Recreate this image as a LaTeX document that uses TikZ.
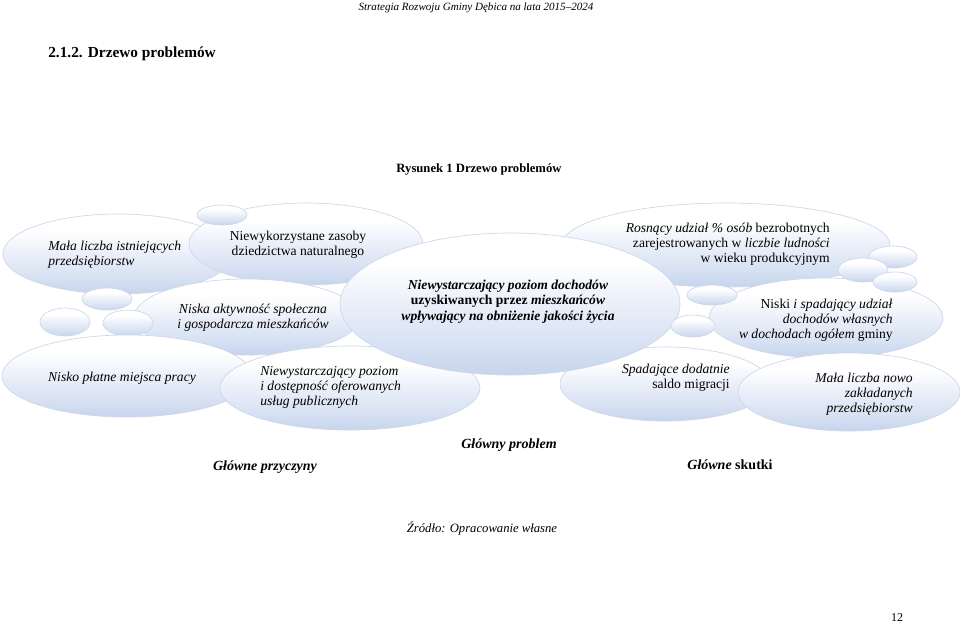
\documentclass[tikz,border=0pt]{standalone}
\usepackage{fontspec}
\setmainfont{Liberation Serif}
\usetikzlibrary{shapes.geometric}
\definecolor{bubA}{RGB}{198,212,237}
\definecolor{bubB}{RGB}{216,226,243}
\definecolor{bubC}{RGB}{234,239,249}
\definecolor{bubEdge}{RGB}{204,215,234}
\pgfdeclareverticalshading{bubshade}{100bp}{color(0bp)=(bubA); color(25bp)=(bubA); color(36bp)=(bubB); color(50bp)=(bubC); color(64bp)=(white); color(100bp)=(white)}
\tikzset{
  bubnode/.style={ellipse, inner sep=0pt, shade, shading=bubshade, draw=bubEdge, line width=0.5pt},
  txt/.style={font=\fontsize{10.2}{11.25}\selectfont, inner sep=0pt},
  lbl/.style={font=\fontsize{10.5}{12}\selectfont\bfseries\itshape, inner sep=0pt, anchor=base}
}
\newcommand\bub[5]{\node[bubnode, minimum width=#4*1.5pt, minimum height=#5*1.5pt] (#1) at (#2,#3) {};}
\begin{document}
\begin{tikzpicture}[x=0.75pt,y=-0.75pt]
\fill[white] (0,0) rectangle (960,625);
\useasboundingbox (0,0) rectangle (960,625);

% header texts
\node[inner sep=0pt, anchor=base, font=\fontsize{8.3}{10}\selectfont\itshape] (hdr) at (476,10) {Strategia Rozwoju Gminy Dębica na lata 2015–2024};
\node[inner sep=0pt, anchor=base west, font=\fontsize{11.5}{13}\selectfont\bfseries] (ttl) at (48,57) {2.1.2. Drzewo problemów};
\node[inner sep=0pt, anchor=base, font=\fontsize{9.5}{11}\selectfont\bfseries] (cap) at (479,172) {Rysunek 1 Drzewo problemów};

% bubbles (back to front)
\bub{A}{118}{254}{115}{40}
\bub{B}{306}{244}{117}{41}
\bub{b1}{222}{215}{25}{10}
\bub{C}{247}{317}{113}{38}
\bub{l1}{107}{299}{25}{11}
\bub{l2}{65}{322}{25}{14}
\bub{l3}{128}{323}{25}{13}
\bub{D}{127}{376}{125}{41}
\bub{E}{350}{388}{130}{42}
\bub{F}{726}{245}{164}{42}
\bub{G}{826}{318}{117}{40}
\bub{r1}{893}{257}{24}{11}
\bub{r2}{863}{270}{25}{12}
\bub{r3}{895}{282}{22}{10}
\bub{H}{665}{384}{105}{37}
\bub{I}{849}{392}{111}{39}
\bub{M}{510}{304}{170}{71}
\bub{m1}{712}{295}{25}{10}
\bub{m2}{693}{326}{22}{11}

% texts in bubbles (anchor = baseline of the last line)
\node[txt, align=left, anchor=base west] (tA) at (48,265) {\textit{Mała liczba istniejących}\\\textit{przedsiębiorstw}};
\node[txt, align=center, anchor=base] (tB) at (298,255) {Niewykorzystane zasoby\\dziedzictwa naturalnego};
\node[txt, align=center, anchor=base] (tC) at (253,328) {\textit{Niska aktywność społeczna}\\\textit{i gospodarcza mieszkańców}};
\node[txt, align=center, anchor=base] (tD) at (122,381) {\textit{Nisko płatne miejsca pracy}};
\node[txt, align=left, anchor=base west] (tE) at (260,405) {\textit{Niewystarczający poziom}\\\textit{i dostępność oferowanych}\\\textit{usług publicznych}};
\node[txt, font=\fontsize{10.2}{11.6}\selectfont\bfseries, align=center, anchor=base] (tM) at (508,320) {\textit{Niewystarczający poziom dochodów}\\uzyskiwanych przez \textit{mieszkańców}\\\textit{wpływający na obniżenie jakości życia}};
\node[txt, align=right, anchor=base east] (tF) at (830,262) {\textit{Rosnący udział \% osób} bezrobotnych\\zarejestrowanych w \textit{liczbie ludności}\\w wieku produkcyjnym};
\node[txt, align=right, anchor=base east] (tG) at (893,338) {Niski \textit{i spadający udział}\\\textit{dochodów własnych}\\\textit{w dochodach ogółem} gminy};
\node[txt, align=right, anchor=base east] (tH) at (730,388) {\textit{Spadające dodatnie}\\saldo migracji};
\node[txt, font=\fontsize{10.2}{10.9}\selectfont, align=right, anchor=base east] (tI) at (913,412) {\textit{Mała liczba nowo}\\\textit{zakładanych}\\\textit{przedsiębiorstw}};

% labels
\node[lbl] (lP) at (509,448) {Główny problem};
\node[lbl] (lC) at (265,470) {Główne przyczyny};
\node[lbl] (lS) at (730,469) {Główne \upshape skutki};
\node[inner sep=0pt, anchor=base, font=\fontsize{9.5}{11}\selectfont\itshape] (src) at (482,532) {Źródło: Opracowanie własne};
\node[inner sep=0pt, anchor=base, font=\fontsize{9}{10}\selectfont] (pg) at (897,621) {12};
\end{tikzpicture}
\end{document}
